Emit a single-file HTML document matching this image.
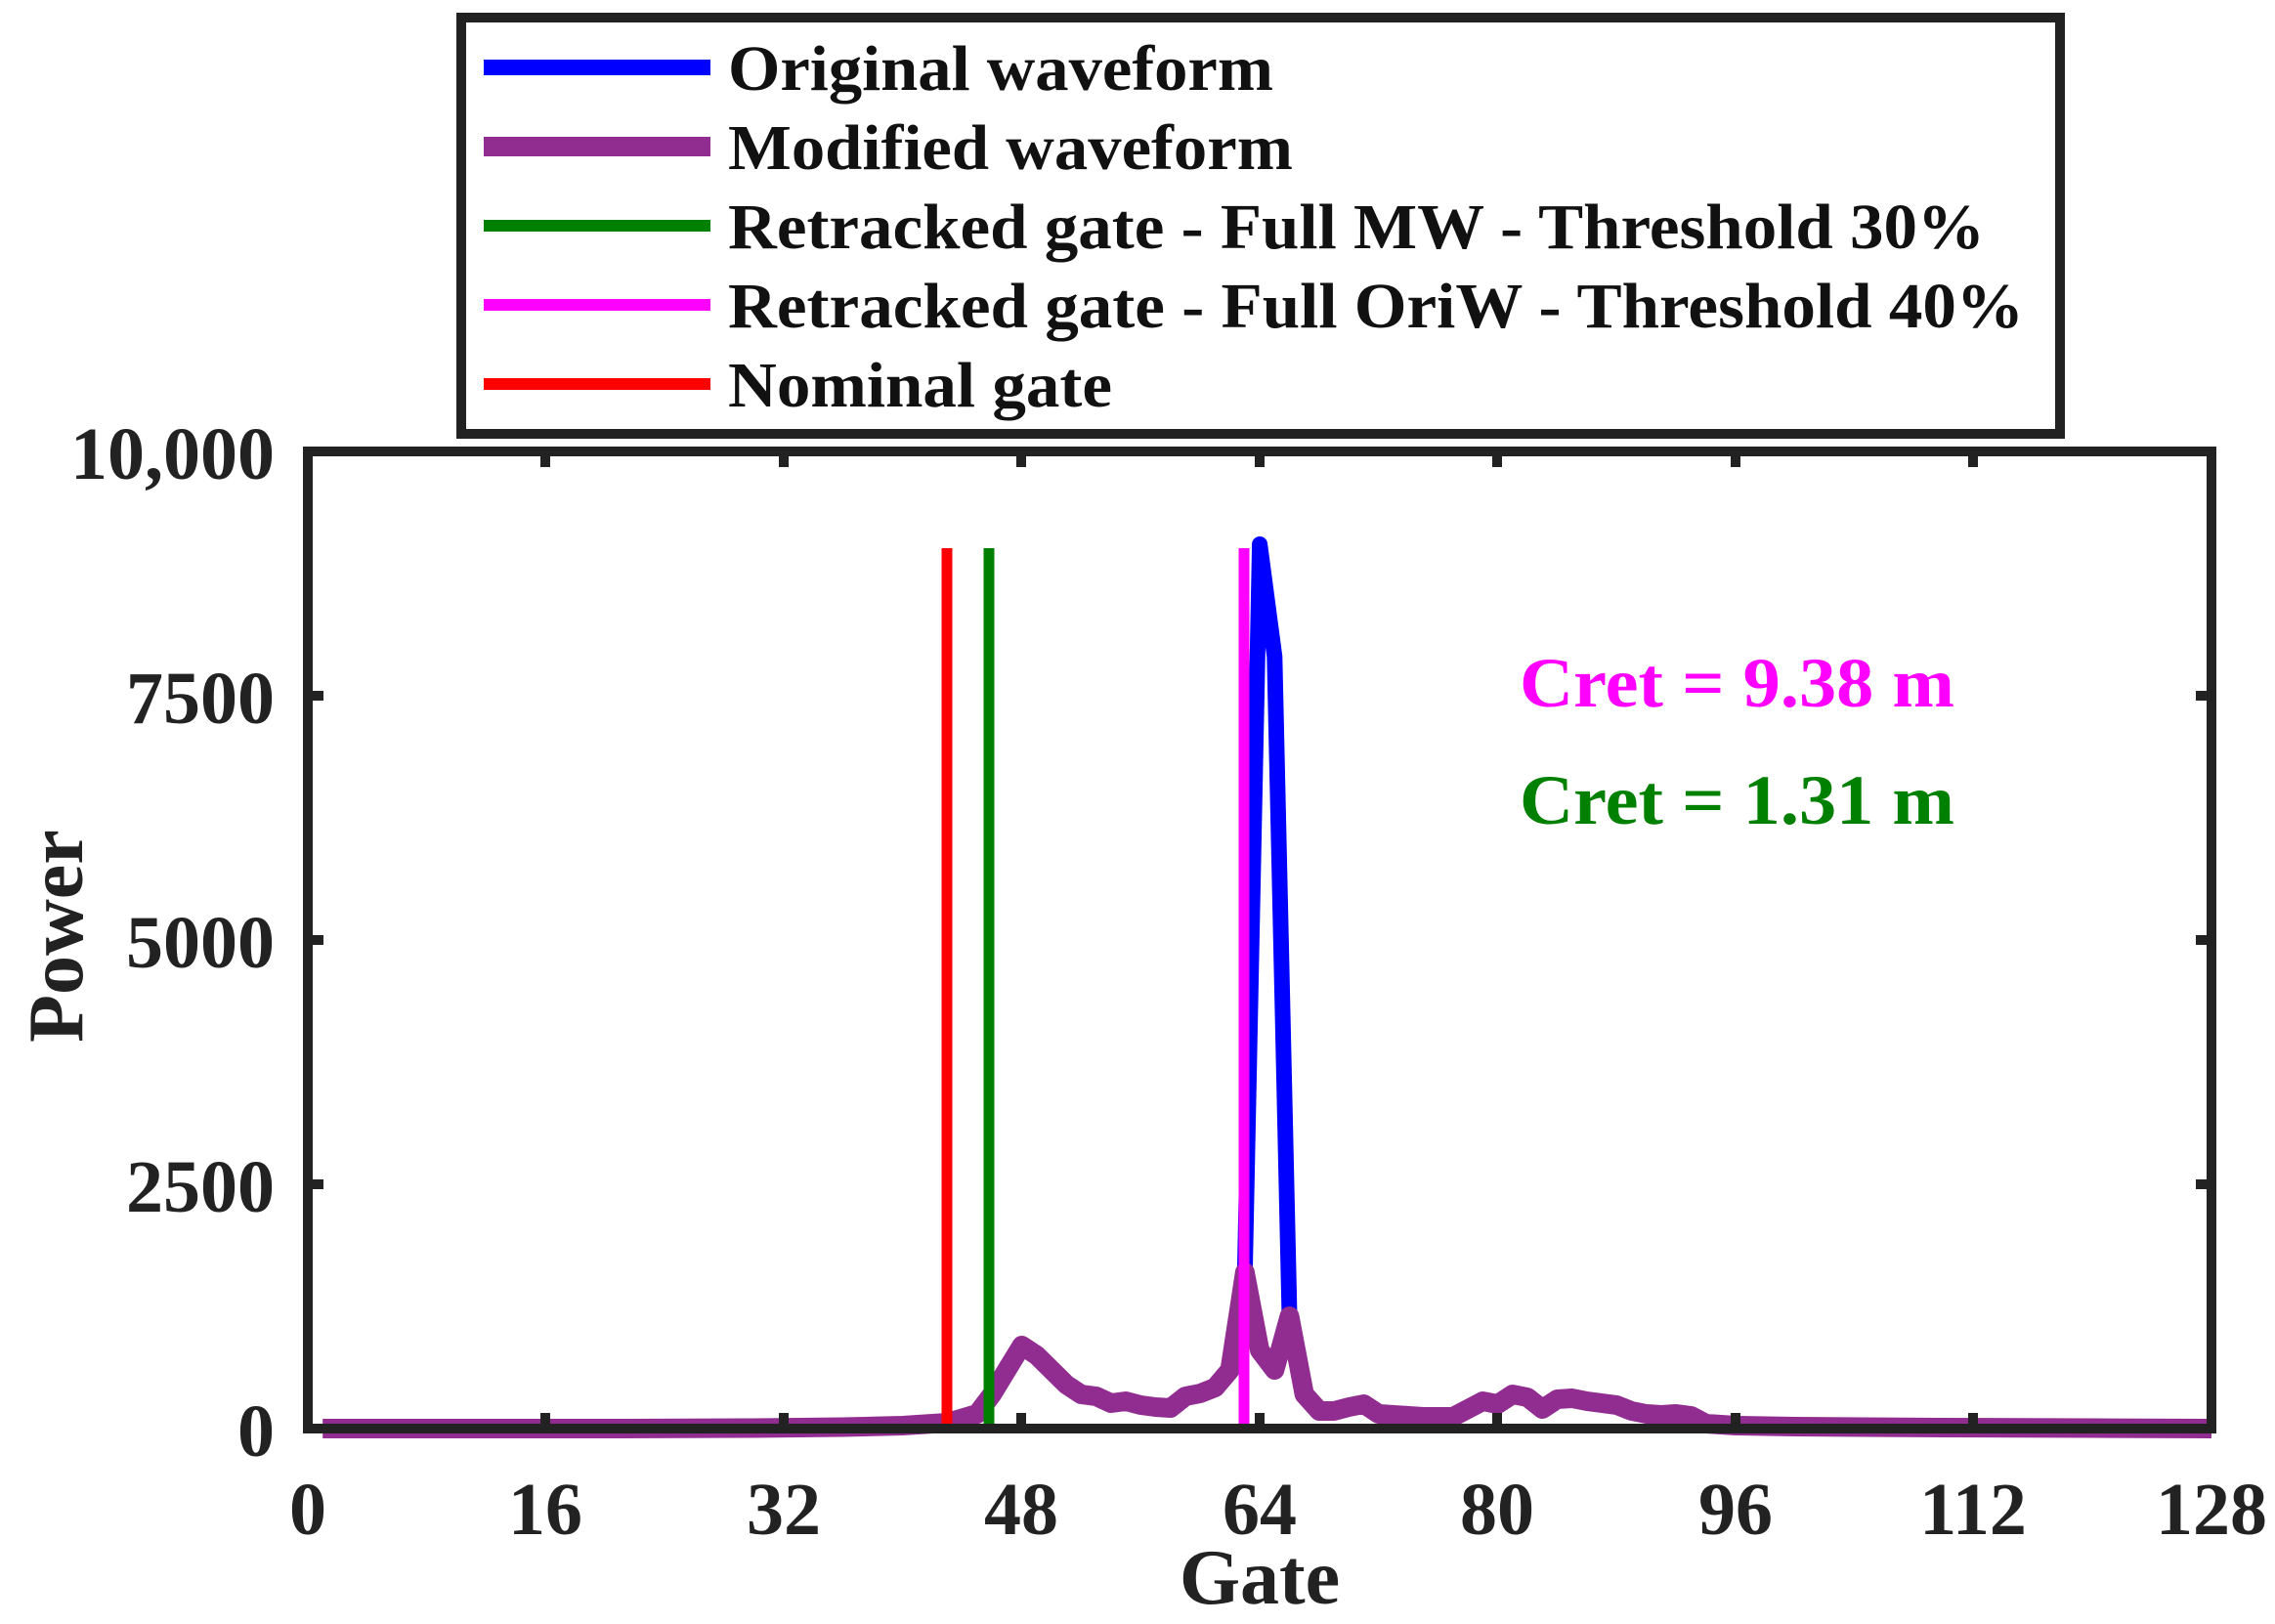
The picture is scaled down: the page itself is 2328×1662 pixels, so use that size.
<!DOCTYPE html>
<html><head><meta charset="utf-8"><style>
html,body{margin:0;padding:0;background:#fff;}
svg{display:block;}
text{font-family:"Liberation Serif",serif;font-weight:bold;}
</style></head><body>
<svg width="2328" height="1662" viewBox="0 0 2328 1662" xmlns="http://www.w3.org/2000/svg">
<rect width="2328" height="1662" fill="#fff"/>
<g fill="none" stroke-linejoin="round">
<polyline stroke="#0000ff" stroke-width="16" stroke-linecap="round" points="1258.6,1402 1273.9,1302 1289.1,557 1304.3,672 1319.5,1347"/>
<polyline stroke="#912c90" stroke-width="20" stroke-linecap="butt" points="330.2,1462 467.2,1462 619.4,1462 771.6,1461.5 862.9,1460.5 923.8,1459 969.5,1456 999.9,1447 1015.1,1427 1030.3,1402 1045.6,1377 1060.8,1387 1076,1402 1091.2,1417 1106.4,1427 1121.7,1429 1136.9,1436 1152.1,1434 1167.3,1438 1182.5,1440 1197.8,1441 1213,1429 1228.2,1426 1243.4,1420 1258.6,1402 1273.9,1302 1289.1,1382 1304.3,1402 1319.5,1347 1334.7,1427 1350,1444 1365.2,1444 1380.4,1440 1395.6,1437 1410.8,1447 1426.1,1448 1441.3,1449 1456.5,1450 1471.7,1450 1486.9,1450 1502.2,1442 1517.4,1434 1532.6,1437 1547.8,1427 1563,1430 1578.3,1442 1593.5,1432 1608.7,1431 1623.9,1434 1639.1,1436 1654.4,1438 1669.6,1444 1684.8,1447 1700,1448 1715.2,1447 1730.5,1449 1745.7,1457 1760.9,1458 1776.1,1459 1837,1460 1989.2,1461 2141.4,1461.5 2263,1462"/>
</g>
<line x1="969" y1="561" x2="969" y2="1462" stroke="#ff0000" stroke-width="11"/>
<line x1="1012" y1="561" x2="1012" y2="1462" stroke="#008000" stroke-width="11"/>
<line x1="1273" y1="561" x2="1273" y2="1462" stroke="#ff00ff" stroke-width="11"/>
<rect x="315" y="462" width="1948" height="1000" fill="none" stroke="#222" stroke-width="10"/>
<g stroke="#222" stroke-width="10">
<line x1="558" y1="462" x2="558" y2="478"/><line x1="802" y1="462" x2="802" y2="478"/><line x1="1045" y1="462" x2="1045" y2="478"/><line x1="1289" y1="462" x2="1289" y2="478"/><line x1="1532" y1="462" x2="1532" y2="478"/><line x1="1776" y1="462" x2="1776" y2="478"/><line x1="2019" y1="462" x2="2019" y2="478"/>
<line x1="558" y1="1462" x2="558" y2="1446"/><line x1="802" y1="1462" x2="802" y2="1446"/><line x1="1045" y1="1462" x2="1045" y2="1446"/><line x1="1289" y1="1462" x2="1289" y2="1446"/><line x1="1532" y1="1462" x2="1532" y2="1446"/><line x1="1776" y1="1462" x2="1776" y2="1446"/><line x1="2019" y1="1462" x2="2019" y2="1446"/>
<line x1="315" y1="712" x2="331" y2="712"/><line x1="315" y1="962" x2="331" y2="962"/><line x1="315" y1="1212" x2="331" y2="1212"/>
<line x1="2263" y1="712" x2="2247" y2="712"/><line x1="2263" y1="962" x2="2247" y2="962"/><line x1="2263" y1="1212" x2="2247" y2="1212"/>
</g>
<g fill="#222" font-size="76" text-anchor="end">
<text x="281" y="490">10,000</text>
<text x="281" y="740">7500</text>
<text x="281" y="990">5000</text>
<text x="281" y="1240">2500</text>
<text x="281" y="1490">0</text>
</g>
<g fill="#222" font-size="76" text-anchor="middle">
<text x="315" y="1570">0</text><text x="558" y="1570">16</text><text x="802" y="1570">32</text><text x="1045" y="1570">48</text><text x="1289" y="1570">64</text><text x="1532" y="1570">80</text><text x="1776" y="1570">96</text><text x="2019" y="1570">112</text><text x="2263" y="1570">128</text>
</g>
<text x="1289" y="1641" fill="#222" font-size="80" text-anchor="middle">Gate</text>
<text transform="translate(84,958) rotate(-90)" fill="#222" font-size="80" text-anchor="middle">Power</text>
<text x="1555" y="723" fill="#ff00ff" font-size="72" textLength="445" lengthAdjust="spacingAndGlyphs">Cret = 9.38 m</text>
<text x="1555" y="843" fill="#008000" font-size="72" textLength="445" lengthAdjust="spacingAndGlyphs">Cret = 1.31 m</text>
<rect x="472" y="18" width="1636" height="426" fill="#fff" stroke="#222" stroke-width="10"/>
<line x1="495" y1="69" x2="727" y2="69" stroke="#0000ff" stroke-width="16"/>
<line x1="495" y1="150" x2="727" y2="150" stroke="#912c90" stroke-width="20"/>
<line x1="495" y1="231" x2="727" y2="231" stroke="#008000" stroke-width="12"/>
<line x1="495" y1="312" x2="727" y2="312" stroke="#ff00ff" stroke-width="12"/>
<line x1="495" y1="393" x2="727" y2="393" stroke="#ff0000" stroke-width="12"/>
<g fill="#111" font-size="66">
<text x="745" y="92" textLength="558" lengthAdjust="spacingAndGlyphs">Original waveform</text>
<text x="745" y="173" textLength="578" lengthAdjust="spacingAndGlyphs">Modified waveform</text>
<text x="745" y="254" textLength="1286" lengthAdjust="spacingAndGlyphs">Retracked gate - Full MW - Threshold 30%</text>
<text x="745" y="335" textLength="1326" lengthAdjust="spacingAndGlyphs">Retracked gate - Full OriW - Threshold 40%</text>
<text x="745" y="416" textLength="393" lengthAdjust="spacingAndGlyphs">Nominal gate</text>
</g>
</svg>
</body></html>
